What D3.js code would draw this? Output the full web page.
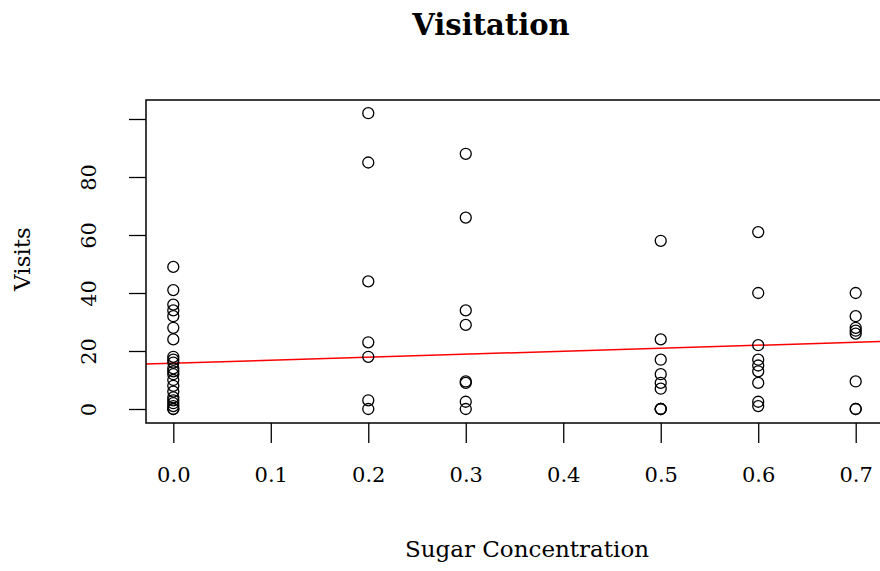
<!DOCTYPE html>
<html>
<head>
<meta charset="utf-8">
<script src="https://cdn.jsdelivr.net/npm/d3@7"></script>
<style>
  body { margin: 0; background: #fff; }
  svg { display: block; }
</style>
</head>
<body>
<div id="chart"></div>
<script>
// sugar concentration levels and the visits seen at each one
const sugar = [0.0, 0.2, 0.3, 0.5, 0.6, 0.7];
const visits00 = [49, 41, 36, 34, 32, 28, 24, 18, 17, 16, 14, 13, 12, 10, 8, 6, 4, 3, 2, 1, 0, 0];
const visits02 = [102, 85, 44, 23, 18, 3, 0];
const visits03 = [88, 66, 34, 29, 9.5, 9, 2.5, 0];
const visits05 = [58, 24, 17, 12, 9, 7, 0, 0, 0];
const visits06 = [61, 40, 22, 17, 15, 13, 9, 2.5, 1];
const visits07 = [40, 32, 28, 27, 26, 9.5, 0, 0];
const visitsBySugar = [visits00, visits02, visits03, visits05, visits06, visits07];

// fitted line: intercept, slope
const fitCoef = [15.8, 10.3];

const xTicks = [0, 0.1, 0.2, 0.3, 0.4, 0.5, 0.6, 0.7];
const yTicks = [0, 20, 40, 60, 80, 100];
const yTickLabels = ["0", "20", "40", "60", "80", ""];

// flatten to points
const points = [];
sugar.forEach((s, i) => {
    visitsBySugar[i].forEach(v => points.push({sugar: s, visits: v}));
});

const width = 880, height = 571;
const box = {left: 146, top: 100, right: 883, bottom: 423};

// set the ranges (R pads the data range by 4%)
const x = d3.scaleLinear().domain([-0.028, 0.728]).range([box.left, box.right]);
const y = d3.scaleLinear().domain([0, 100]).range([409, 119]);

const svg = d3.select("#chart").append("svg")
    .attr("width", width)
    .attr("height", height);

const labelFont = "DejaVu Serif";

// title
svg.append("text")
    .attr("x", 491).attr("y", 35)
    .attr("text-anchor", "middle")
    .style("font-family", labelFont)
    .style("font-weight", "bold")
    .style("font-size", "29px")
    .text("Visitation");

// clip for the plot region
svg.append("clipPath").attr("id", "plotClip")
  .append("rect")
    .attr("x", box.left).attr("y", box.top)
    .attr("width", box.right - box.left).attr("height", box.bottom - box.top);

// regression line
const x0 = x.domain()[0], x1 = x.domain()[1];
svg.append("line")
    .attr("clip-path", "url(#plotClip)")
    .attr("x1", x(x0)).attr("y1", y(fitCoef[0] + fitCoef[1] * x0))
    .attr("x2", x(x1)).attr("y2", y(fitCoef[0] + fitCoef[1] * x1))
    .attr("stroke", "#ff0000")
    .attr("stroke-width", 1.5);

// scatter points
svg.append("g")
    .selectAll("circle")
    .data(points)
    .enter().append("circle")
    .attr("cx", d => x(d.sugar))
    .attr("cy", d => y(d.visits))
    .attr("r", 5.5)
    .attr("fill", "none")
    .attr("stroke", "#000")
    .attr("stroke-width", 1.3);

// plot box
svg.append("rect")
    .attr("x", box.left).attr("y", box.top)
    .attr("width", box.right - box.left).attr("height", box.bottom - box.top)
    .attr("fill", "none")
    .attr("stroke", "#000")
    .attr("stroke-width", 1.5);

// x axis
const xAxis = svg.append("g")
    .attr("transform", "translate(0," + box.bottom + ")")
    .call(d3.axisBottom(x).tickValues(xTicks).tickFormat(d3.format(".1f")).tickSize(20).tickPadding(24));
xAxis.select(".domain").remove();
xAxis.selectAll(".tick line").attr("stroke", "#000").attr("stroke-width", 1.3);
xAxis.selectAll(".tick text")
    .style("font-family", labelFont)
    .style("font-size", "21px")
    .attr("fill", "#000");

// y axis
const yAxis = svg.append("g")
    .attr("transform", "translate(" + box.left + ",0)")
    .call(d3.axisLeft(y).tickValues(yTicks).tickFormat((d, i) => yTickLabels[i]).tickSize(17));
yAxis.select(".domain").remove();
yAxis.selectAll(".tick line").attr("stroke", "#000").attr("stroke-width", 1.3);
yAxis.selectAll(".tick text")
    .attr("x", 0).attr("y", 0).attr("dy", null)
    .attr("transform", "translate(-57,0) rotate(-90)")
    .attr("text-anchor", "middle")
    .attr("dominant-baseline", "central")
    .style("font-family", labelFont)
    .style("font-size", "21px")
    .attr("fill", "#000");

// axis titles
svg.append("text")
    .attr("x", 527).attr("y", 557)
    .attr("text-anchor", "middle")
    .style("font-family", labelFont)
    .style("font-size", "23px")
    .text("Sugar Concentration");

svg.append("text")
    .attr("transform", "translate(30,259) rotate(-90)")
    .attr("text-anchor", "middle")
    .style("font-family", labelFont)
    .style("font-size", "23px")
    .text("Visits");
</script>
</body>
</html>
